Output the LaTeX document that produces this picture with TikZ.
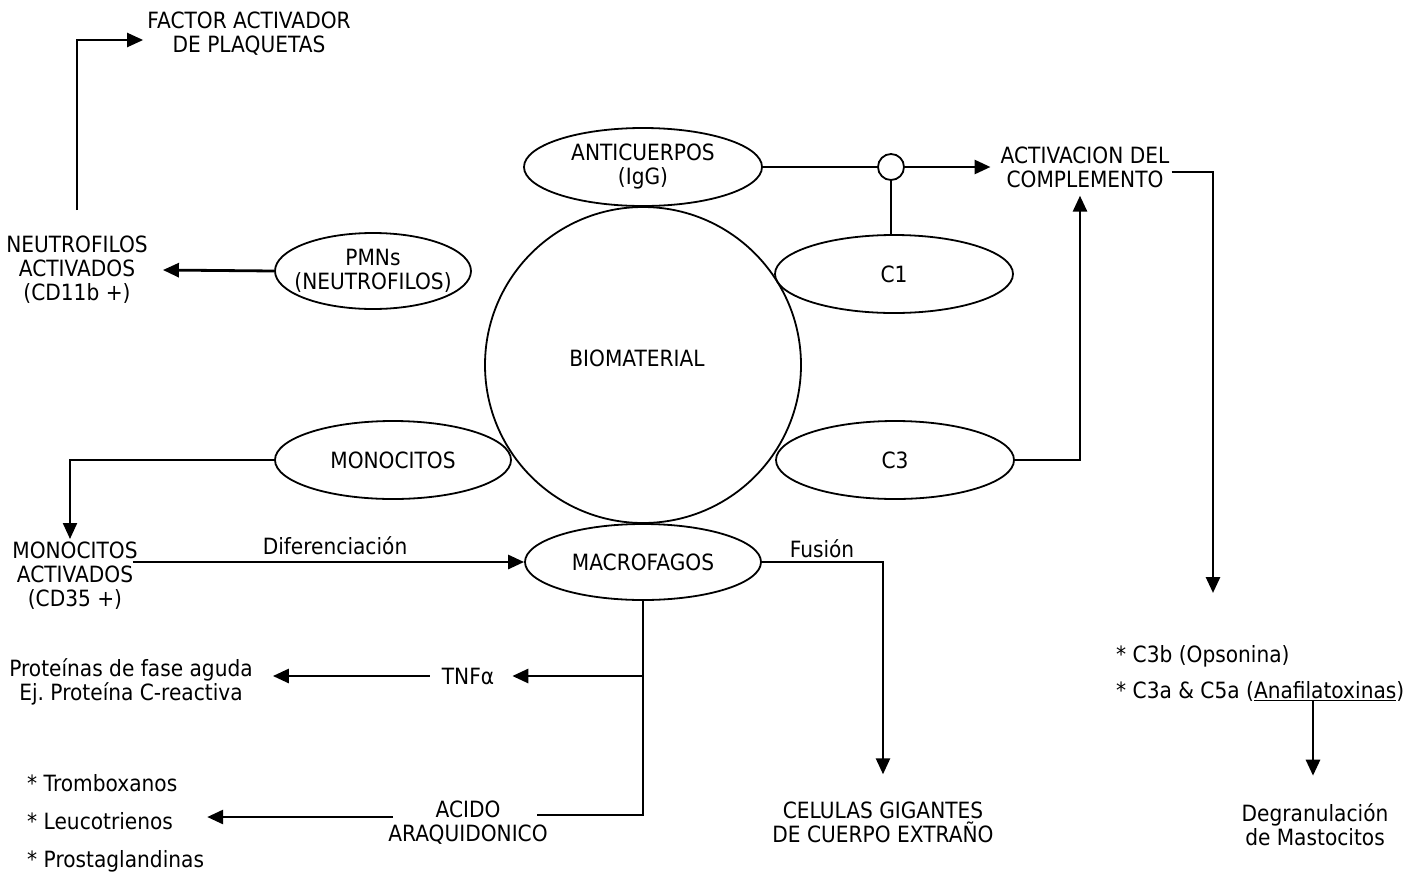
\documentclass[tikz,border=0pt]{standalone}
\usepackage{fontspec}
\setmainfont{DejaVu Sans}[FakeStretch=0.9]
\usetikzlibrary{arrows.meta,shapes.geometric}
\begin{document}
\begin{tikzpicture}[x=1pt,y=-1pt,
  every node/.style={font=\fontsize{22.4}{24}\selectfont, inner sep=0pt, align=center},
  cell/.style={draw, ellipse, line width=1.8pt, minimum width=238pt, minimum height=78pt},
  thinline/.style={line width=1.8pt},
  flow/.style={line width=2.8pt, -{Triangle[length=16pt,width=14pt]}},
  flowthin/.style={line width=2.2pt, -{Triangle[length=16pt,width=14pt]}}]
\useasboundingbox (0,0) rectangle (1403,876);

% central biomaterial and surrounding cells
\node[draw, circle, line width=1.8pt, minimum size=316pt,
      label={[shift={(-6,-7)}]center:BIOMATERIAL}] (bio) at (643,365) {};
\node[cell] (anti) at (643,167) {ANTICUERPOS\\(IgG)};
\node[cell, minimum width=196pt, minimum height=76pt, inner xsep=-12pt] (pmn) at (373,271) {PMNs\\(NEUTROFILOS)};
\node[cell] (c1) at (894,274) {C1};
\node[cell, minimum width=236pt] (mono) at (393,460) {MONOCITOS};
\node[cell] (c3) at (895,460) {C3};
\node[cell, minimum width=236pt, minimum height=76pt] (macro) at (643,562) {MACROFAGOS};
\node[draw, circle, line width=1.8pt, minimum size=26pt] (jn) at (891,167) {};

% text nodes
\node (fac) at (249,34) {FACTOR ACTIVADOR\\DE PLAQUETAS};
\node (neu) at (77,270) {NEUTROFILOS\\ACTIVADOS\\(CD11b +)};
\node (act) at (1085,167) {ACTIVACION DEL\\COMPLEMENTO};
\node[align=left, anchor=west, font=\fontsize{22.4}{36}\selectfont] (comp) at (1116,673) {* C3b (Opsonina)\\* C3a \& C5a (\underline{Anafilatoxinas})};
\node (degr) at (1315,825) {Degranulación\\de Mastocitos};
\node (monact) at (75,576) {MONOCITOS\\ACTIVADOS\\(CD35 +)};
\node (dif) at (335,546) {Diferenciación};
\node (fus) at (822,549) {Fusión};
\node (cel) at (883,822) {CELULAS GIGANTES\\DE CUERPO EXTRAÑO};
\node (tnf) at (468,676) {TNFα};
\node (prot) at (131,682) {Proteínas de fase aguda\\Ej.\ Proteína C-reactiva};
\node (acido) at (468,823) {ACIDO\\ARAQUIDONICO};
\node[align=left, anchor=west, font=\fontsize{22.4}{38}\selectfont] (eic) at (27,823) {* Tromboxanos\\* Leucotrienos\\* Prostaglandinas};

% complement pathway
\draw[thinline] (anti.east) -- (jn.west);
\draw[thinline] (jn.south) -- (jn.south |- c1.north);
\draw[flow] (jn.east) -- ([xshift=-10pt]act.west);
\draw[flow] (c3.east) -| ([xshift=-5pt,yshift=-8pt]act.south);
\coordinate (compTop) at (1213,593);
\draw[flow] ([xshift=2pt,yshift=-5pt]act.east) -| (compTop);
\coordinate (anaf) at (1313,700);
\draw[flow] (anaf) -- ([yshift=28pt]anaf |- degr.north);

% neutrophils
\draw[flow] (pmn.west) -- ([xshift=15pt]neu.east);
\draw[flowthin] ([yshift=26pt]neu.north) |- ([xshift=-4pt,yshift=-6pt]fac.west);

% monocytes and macrophages
\draw[flowthin] (mono.west) -| ([xshift=-5pt,yshift=3pt]monact.north);
\draw[flow] ([xshift=-5pt]monact.east |- macro.west) -- (macro.west);
\draw[line width=2.4pt, -{Triangle[length=16pt,width=14pt]}] (macro.east) -| ([yshift=27pt]cel.north);
\draw[thinline] (macro.south) |- ([xshift=-11pt,yshift=8pt]acido.east);
\draw[flow] (macro.south |- tnf.east) -- ([xshift=18pt]tnf.east);
\draw[flow] ([xshift=-12pt]tnf.west) -- ([xshift=20pt]prot.east |- tnf.west);
\coordinate (acw) at ([xshift=5pt,yshift=6pt]acido.west);
\draw[flow] (acw) -- ([xshift=3pt]acw -| eic.east);
\end{tikzpicture}
\end{document}
